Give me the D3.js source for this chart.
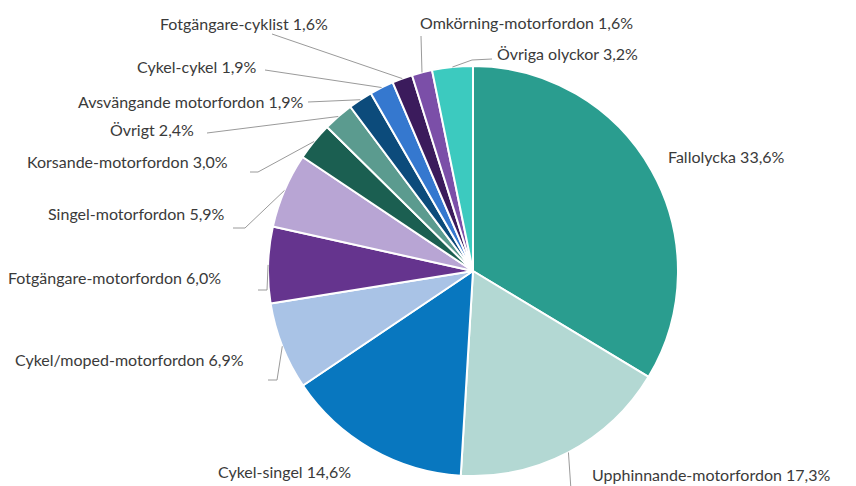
<!DOCTYPE html>
<html>
<head>
<meta charset="utf-8">
<script src="https://cdn.jsdelivr.net/npm/d3@7"></script>
<style>
  body { margin: 0; background: #fff; }
  svg text { font-family: Lato, "Open Sans", sans-serif; font-size: 16px; fill: #3a3a3a; }
</style>
</head>
<body>
<svg id="pie-chart"></svg>
<script>
// Categories, clockwise from 12 o'clock
var categories = [
    "Fallolycka", "Upphinnande-motorfordon", "Cykel-singel", "Cykel/moped-motorfordon",
    "Fotgängare-motorfordon", "Singel-motorfordon", "Korsande-motorfordon", "Övrigt",
    "Avsvängande motorfordon", "Cykel-cykel", "Fotgängare-cyklist", "Omkörning-motorfordon",
    "Övriga olyckor"
];
var values = [33.6, 17.3, 14.6, 6.9, 6.0, 5.9, 3.0, 2.4, 1.9, 1.9, 1.6, 1.6, 3.2];
var valueLabels = ["33,6%", "17,3%", "14,6%", "6,9%", "6,0%", "5,9%", "3,0%", "2,4%",
    "1,9%", "1,9%", "1,6%", "1,6%", "3,2%"];

var colours = ["#2a9d8f", "#b3d8d3", "#0877bf", "#a9c3e6", "#65348e", "#b8a5d4",
    "#1b5f51", "#5b9b8f", "#0c4b7b", "#3578cf", "#3b1b5c", "#7b4fa8", "#3ccabf"];

// Label layout: text start x, baseline y, and extra leader points after the arc point
var labelLayout = [
    { x: 668, y: 163, leader: null },
    { x: 592, y: 481, leader: [[571, 490]] },
    { x: 218, y: 478, leader: null },
    { x: 15, y: 366, leader: [[277, 380], [268, 380]] },
    { x: 8, y: 284, leader: [[267, 290], [258, 290]] },
    { x: 48, y: 220, leader: [[245, 228], [233, 228]] },
    { x: 27, y: 168, leader: [[258, 172], [250, 172]] },
    { x: 110, y: 136, leader: [[207, 133]] },
    { x: 78, y: 108, leader: [[308, 102]] },
    { x: 137, y: 73, leader: [[265, 70]] },
    { x: 160, y: 30, leader: [[272, 34]] },
    { x: 420, y: 29, leader: [[421, 36]] },
    { x: 497, y: 60, leader: [[472, 60], [492, 59]] }
];

var width = 856,
    height = 486,
    cx = 473,
    cy = 271,
    radius = 205;

var svg = d3.select("#pie-chart")
    .attr("width", width)
    .attr("height", height);

var g = svg.append("g")
    .attr("transform", "translate(" + cx + "," + cy + ")");

var pie = d3.pie()
    .value(function (d) { return d; })
    .sort(null);

var arc = d3.arc()
    .innerRadius(0)
    .outerRadius(radius);

var edgeArc = d3.arc()
    .innerRadius(radius)
    .outerRadius(radius);

var slices = pie(values);

g.selectAll(".slice")
    .data(slices)
    .enter().append("path")
    .attr("class", "slice")
    .attr("d", arc)
    .attr("fill", function (d, i) { return colours[i]; })
    .attr("stroke", "#fff")
    .attr("stroke-width", 2)
    .attr("stroke-linejoin", "round");

// Leader lines from the middle of each slice's outer edge
var line = d3.line();
svg.selectAll(".leader")
    .data(slices.filter(function (d, i) { return labelLayout[i].leader; }))
    .enter().append("path")
    .attr("class", "leader")
    .attr("fill", "none")
    .attr("stroke", "#9a9a9a")
    .attr("stroke-width", 1)
    .attr("d", function (d) {
        var c = edgeArc.centroid(d);
        var pts = [[cx + c[0], cy + c[1]]].concat(labelLayout[d.index].leader);
        return line(pts);
    });

svg.selectAll(".label")
    .data(slices)
    .enter().append("text")
    .attr("class", "label")
    .attr("x", function (d, i) { return labelLayout[i].x; })
    .attr("y", function (d, i) { return labelLayout[i].y; })
    .text(function (d, i) { return categories[i] + " " + valueLabels[i]; });
</script>
</body>
</html>
